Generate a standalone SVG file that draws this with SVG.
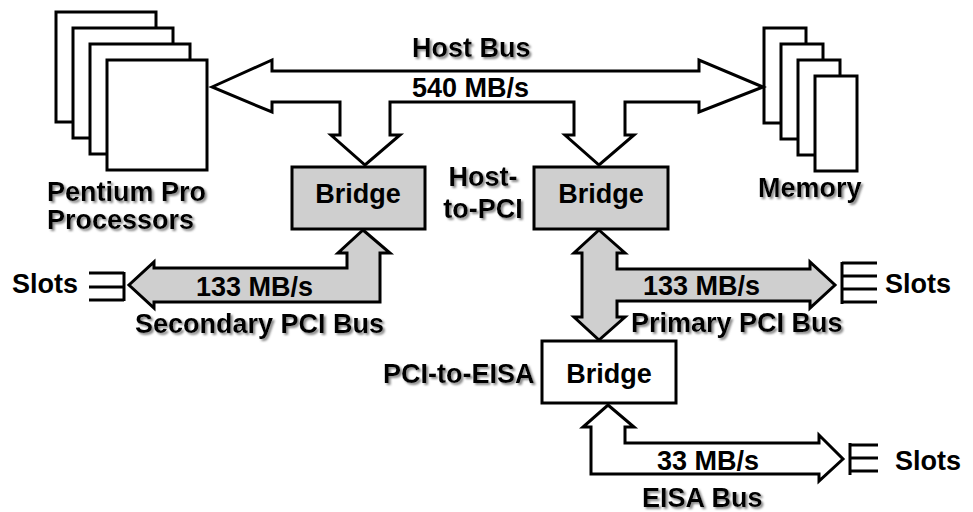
<svg xmlns="http://www.w3.org/2000/svg" width="973" height="512" viewBox="0 0 973 512">
<defs>
<filter id="sh" x="-10%" y="-20%" width="130%" height="160%">
<feGaussianBlur in="SourceAlpha" stdDeviation="0.8" result="b"/>
<feOffset in="b" dx="2" dy="2" result="o"/>
<feFlood flood-color="#888888"/>
<feComposite in2="o" operator="in" result="s"/>
<feMerge><feMergeNode in="s"/><feMergeNode in="SourceGraphic"/></feMerge>
</filter>
<style>
text{font-family:"Liberation Sans",Arial,sans-serif;font-weight:bold;font-size:27px;fill:#000}
.sh{filter:url(#sh)}
.box{fill:#fff;stroke:#000;stroke-width:3}
.gbox{fill:#cfcfcf;stroke:#000;stroke-width:3}
.bus{stroke:#000;stroke-width:3;stroke-linejoin:miter}
.w{fill:#fff}
.g{fill:#cfcfcf}
.ln{stroke:#000;stroke-width:3;fill:none}
</style>
</defs>
<rect width="973" height="512" fill="#fff"/>

<g id="processors">
<rect class="box" x="56" y="12" width="100" height="110"/>
<rect class="box" x="73" y="28" width="100" height="110"/>
<rect class="box" x="90" y="44" width="100" height="110"/>
<rect class="box" x="107" y="60" width="100" height="110"/>
<text class="sh" x="47" y="201">Pentium Pro</text>
<text class="sh" x="47" y="229">Processors</text>
</g>

<g id="memory">
<rect class="box" x="764" y="28" width="42" height="95"/>
<rect class="box" x="781" y="44" width="42" height="95"/>
<rect class="box" x="798" y="60" width="42" height="95"/>
<rect class="box" x="815" y="76" width="42" height="95"/>
<text class="sh" x="758" y="197">Memory</text>
</g>

<g id="bridge-left">
<rect class="gbox" x="292" y="167" width="133" height="62"/>
<text x="358" y="203" text-anchor="middle">Bridge</text>
</g>

<g id="bridge-right">
<rect class="gbox" x="534" y="167" width="134" height="62"/>
<text x="601" y="203" text-anchor="middle">Bridge</text>
<text class="sh" x="483" y="186" text-anchor="middle">Host-</text>
<text class="sh" x="483" y="218" text-anchor="middle">to-PCI</text>
</g>

<g id="bridge-eisa">
<rect class="box" x="542" y="341" width="134" height="62"/>
<text x="609" y="383" text-anchor="middle">Bridge</text>
<text class="sh" x="383" y="383">PCI-to-EISA</text>
</g>

<g id="connectors">
<path class="bus w" d="M212,87 L272,60 L272,71 L699,71 L699,60 L763,87 L699,112 L699,102 L625,102 L625,135 L634,135 L599,165 L565,135 L574,135 L574,102 L390,102 L390,135 L400,135 L365,165 L331,135 L340,135 L340,102 L272,102 L272,112 Z"/>
<path class="bus g" d="M363,230 L390,253 L380,253 L380,302 L154,302 L154,308 L129,285 L154,262 L154,268 L347,268 L347,253 L338,253 Z"/>
<path class="bus g" d="M599,230 L625,253 L617,253 L617,269 L810,269 L810,262 L835,285 L810,308 L810,301 L617,301 L617,317 L625,317 L599,340 L574,317 L582,317 L582,253 L574,253 Z"/>
<path class="bus w" d="M608,405 L634,427 L625,427 L625,443 L819,443 L819,435 L843,459 L819,481 L819,474 L591,474 L591,427 L583,427 Z"/>
</g>

<g id="slots-left">
<path class="ln" d="M124,272 V301 M89,273 H124 M89,287 H124 M89,300 H124"/>
<text x="12" y="293">Slots</text>
</g>
<g id="slots-primary">
<path class="ln" d="M842,262 V304 M842,263 H877 M842,276 H877 M842,289 H877 M842,302 H877"/>
<text x="885" y="293">Slots</text>
</g>
<g id="slots-eisa">
<path class="ln" d="M850,443 V475 M850,445 H878 M850,458 H878 M850,471 H878"/>
<text x="895" y="470">Slots</text>
</g>

<g id="labels">
<text class="sh" x="412" y="57">Host Bus</text>
<text x="412" y="97">540 MB/s</text>
<text x="196" y="296">133 MB/s</text>
<text class="sh" x="135" y="333">Secondary PCI Bus</text>
<text x="643" y="295">133 MB/s</text>
<text class="sh" x="631" y="332">Primary PCI Bus</text>
<text x="657" y="470">33 MB/s</text>
<text class="sh" x="642" y="507">EISA Bus</text>
</g>
</svg>
